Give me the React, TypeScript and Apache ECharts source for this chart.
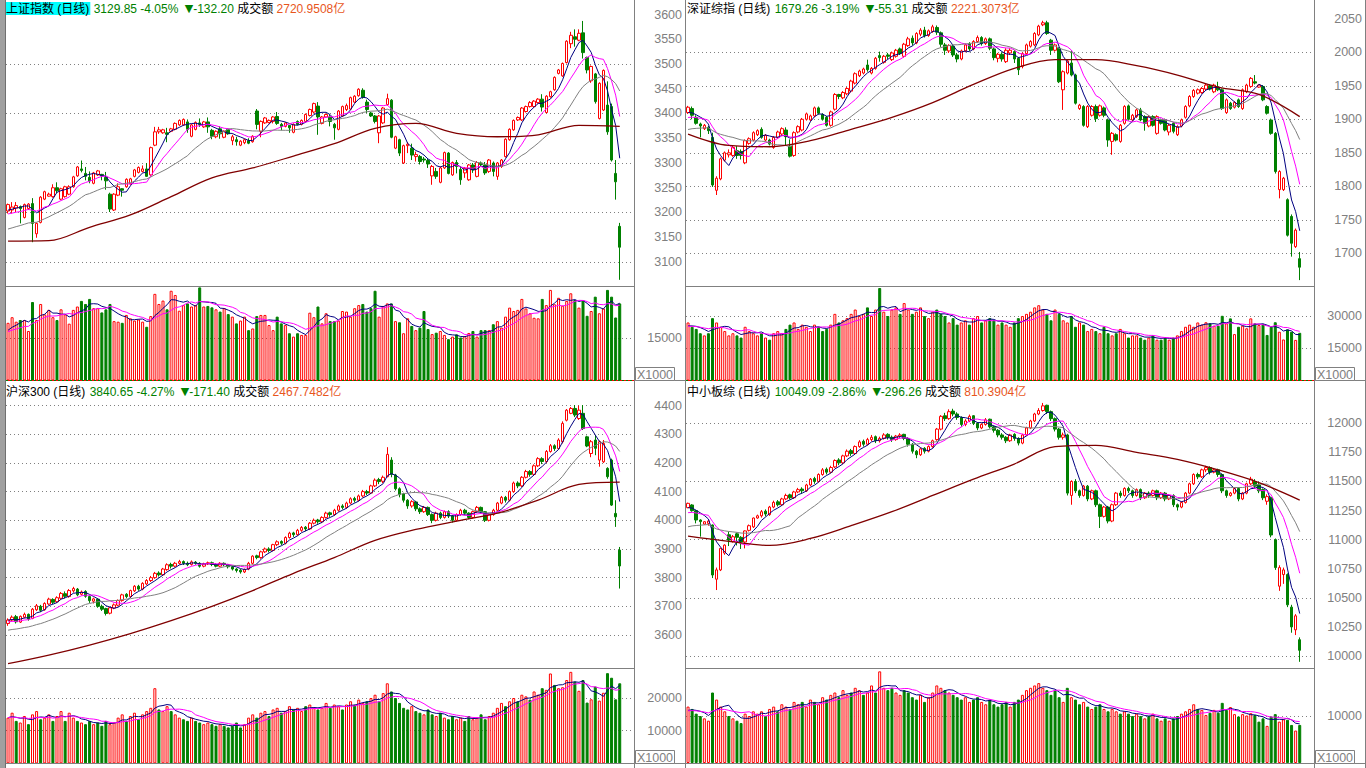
import React, { useEffect, useRef } from "react";
import * as echarts from "echarts";

const SLOT_COUNT = 154;
const categories: string[] = Array.from({ length: SLOT_COUNT }, (_, i) => "T" + (i + 1));

// ---------- 上证指数 ----------  [open, close, low, high]
const shOHLC = [
[3203,3216,3198,3218],[3205,3211,3198,3221],[3209,3214,3201,3221],[3212,3208,3178,3214],[3190,3216,3188,3218],[3208,3217,3205,3219],[3218,3178,3140,3229],[3157,3178,3149,3180],[3180,3231,3178,3233],[3227,3242,3225,3244],
[3233,3237,3232,3240],[3232,3250,3230,3257],[3250,3244,3239,3261],[3227,3248,3225,3250],[3232,3252,3230,3254],[3237,3252,3235,3255],[3252,3272,3250,3274],[3274,3292,3272,3294],[3288,3285,3281,3305],[3279,3273,3265,3292],
[3271,3264,3259,3283],[3259,3280,3257,3282],[3276,3284,3274,3286],[3277,3274,3265,3278],[3271,3264,3246,3282],[3237,3207,3201,3240],[3205,3237,3203,3239],[3235,3252,3233,3259],[3248,3245,3232,3249],[3252,3267,3250,3269],
[3258,3268,3256,3270],[3273,3286,3271,3288],[3281,3291,3279,3293],[3283,3288,3281,3295],[3288,3273,3272,3300],[3276,3331,3274,3333],[3336,3363,3334,3373],[3363,3367,3359,3373],[3361,3367,3359,3369],[3361,3358,3342,3371],
[3364,3369,3362,3371],[3368,3380,3366,3382],[3377,3386,3375,3388],[3377,3388,3375,3390],[3383,3368,3361,3388],[3354,3377,3352,3379],[3368,3382,3366,3384],[3381,3378,3373,3390],[3373,3383,3371,3385],[3383,3373,3361,3392],
[3366,3354,3348,3369],[3353,3364,3350,3366],[3369,3359,3349,3374],[3352,3364,3350,3366],[3368,3359,3357,3370],[3345,3353,3336,3357],[3347,3343,3335,3353],[3336,3344,3334,3346],[3341,3347,3338,3349],[3345,3340,3338,3350],
[3343,3354,3341,3356],[3405,3378,3368,3409],[3364,3384,3352,3386],[3381,3391,3379,3393],[3382,3386,3380,3388],[3384,3393,3380,3395],[3394,3380,3377,3403],[3378,3374,3366,3381],[3374,3381,3372,3383],[3376,3371,3361,3377],
[3362,3378,3360,3380],[3384,3378,3376,3386],[3378,3386,3376,3388],[3384,3398,3382,3400],[3396,3408,3394,3410],[3403,3420,3400,3422],[3415,3393,3357,3423],[3380,3393,3378,3395],[3393,3398,3391,3400],[3393,3384,3374,3398],
[3378,3371,3347,3381],[3368,3405,3366,3407],[3395,3414,3393,3416],[3408,3416,3405,3420],[3409,3432,3407,3434],[3423,3435,3421,3437],[3436,3449,3434,3451],[3447,3433,3430,3451],[3423,3408,3401,3428],[3401,3395,3393,3403],
[3395,3384,3380,3397],[3361,3395,3340,3397],[3381,3411,3379,3413],[3418,3430,3416,3440],[3427,3352,3350,3429],[3330,3353,3328,3355],[3347,3320,3314,3349],[3300,3335,3298,3337],[3335,3338,3320,3342],[3330,3316,3306,3339],
[3313,3317,3303,3323],[3313,3303,3297,3316],[3308,3306,3301,3312],[3305,3298,3290,3309],[3274,3293,3256,3296],[3283,3273,3268,3290],[3261,3290,3259,3293],[3290,3321,3288,3323],[3320,3279,3277,3322],[3276,3301,3274,3303],
[3301,3293,3279,3306],[3287,3266,3256,3293],[3280,3289,3270,3292],[3266,3296,3264,3298],[3296,3286,3280,3300],[3273,3301,3271,3304],[3300,3297,3293,3303],[3296,3280,3276,3302],[3283,3306,3280,3308],[3300,3283,3273,3303],
[3273,3300,3266,3302],[3293,3306,3290,3308],[3313,3348,3311,3350],[3347,3368,3345,3370],[3367,3386,3365,3388],[3387,3392,3385,3394],[3387,3411,3385,3413],[3404,3414,3402,3416],[3414,3422,3412,3425],[3414,3425,3412,3427],
[3422,3429,3420,3431],[3429,3413,3404,3439],[3402,3435,3400,3437],[3434,3444,3432,3446],[3448,3473,3446,3475],[3481,3488,3479,3490],[3476,3501,3474,3503],[3503,3546,3501,3548],[3541,3558,3532,3565],[3555,3550,3535,3570],
[3548,3562,3546,3570],[3563,3523,3511,3587],[3513,3488,3481,3515],[3466,3495,3462,3497],[3480,3424,3420,3482],[3390,3461,3388,3463],[3407,3487,3405,3489],[3417,3363,3357,3465],[3414,3306,3303,3420],[3279,3262.05,3226,3306],[3172,3129.85,3064,3179]
];
const shVol = [
20500,22500,20900,21500,21500,17600,27900,21500,27200,23500,
25100,22500,21500,25300,23500,20200,25100,26300,28300,27200,
29000,25700,25700,24200,25300,27200,21100,20900,20500,23300,
22100,21300,21700,20900,19100,22900,30800,27200,28400,25300,
31900,30400,24800,26800,27400,26300,26800,33100,26300,26500,
26000,25300,24500,25700,23600,22700,20300,21300,22700,17900,
18500,22900,23300,23300,19700,17900,22700,20300,19700,16800,
15600,16800,16200,16200,24100,22500,26300,20300,23900,21100,
21100,21300,24700,24500,22700,25700,26800,27200,24500,25700,
31900,22700,26500,27400,27400,21100,20700,16800,22100,19400,
17900,18800,24700,18300,16500,17000,17600,16200,14700,15600,
16400,15300,15800,16900,17600,15600,17900,17900,17900,20000,
21100,18800,22700,25900,24700,25100,29000,25600,23900,22300,
22100,29000,26800,32200,27100,29400,26600,28300,31000,28600,
25900,28600,23000,24700,29800,23900,25600,32200,29800,22400,27400
];
const shMaLong = [3142,3143,3170,3195,3232,3270,3290,3314,3339,3370,3380,3360,3353,3357,3376,3374];
const shMaSeeds = [3202, 3195, 3164];
const shVolMaSeeds = [17200, 17000];
const shLabels = [3100, 3150, 3200, 3250, 3300, 3350, 3400, 3450, 3500, 3550, 3600];
const shGridLines = [3100, 3200, 3300, 3400, 3500];
const shVolLabels = [15000];
const shVolGridLines = [15000];

// ---------- 深证综指 ----------
const szOHLC = [
[1910,1918,1908,1920],[1916,1906,1900,1919],[1903,1894,1892,1906],[1893,1890,1873,1895],[1886,1891,1884,1893],[1888,1883,1878,1890],[1873,1802,1799,1880],[1794,1812,1787,1815],[1811,1841,1809,1843],[1839,1850,1837,1852],
[1847,1850,1843,1855],[1846,1858,1844,1860],[1853,1846,1841,1860],[1852,1846,1840,1855],[1835,1868,1833,1870],[1864,1871,1862,1873],[1869,1880,1867,1882],[1877,1883,1875,1885],[1885,1873,1871,1888],[1869,1876,1867,1878],
[1869,1863,1861,1871],[1858,1873,1856,1875],[1873,1881,1871,1883],[1878,1886,1876,1888],[1884,1874,1861,1888],[1860,1845,1843,1870],[1846,1880,1844,1882],[1881,1889,1879,1891],[1884,1900,1882,1902],[1900,1908,1898,1910],
[1899,1905,1897,1907],[1905,1917,1903,1919],[1917,1909,1907,1919],[1907,1900,1898,1909],[1903,1891,1889,1905],[1891,1911,1889,1913],[1915,1937,1913,1939],[1937,1934,1930,1938],[1932,1940,1930,1942],[1938,1946,1936,1948],
[1942,1957,1940,1959],[1954,1968,1952,1970],[1965,1972,1963,1974],[1969,1975,1967,1977],[1981,1974,1971,1989],[1969,1976,1967,1978],[1976,1991,1974,1993],[1995,1992,1986,2001],[1985,1994,1983,1996],[1996,1994,1990,1999],
[1989,1999,1987,2001],[1994,2003,1992,2005],[2005,1998,1996,2007],[1994,2012,1992,2014],[2010,2020,2008,2023],[2021,2014,2010,2025],[2014,2028,2012,2030],[2027,2033,2024,2036],[2033,2025,2022,2038],[2025,2032,2023,2034],
[2031,2038,2029,2041],[2037,2030,2026,2040],[2029,2012,2008,2031],[2011,2003,1996,2014],[2002,2010,1999,2012],[2009,1996,1993,2011],[1996,1990,1985,1999],[1990,2002,1988,2004],[2002,2011,2000,2013],[2012,2005,2002,2015],
[2005,2016,2003,2018],[2016,2022,2014,2025],[2022,2013,2010,2024],[2013,2020,2011,2022],[2020,2006,2003,2022],[2005,1992,1988,2007],[1991,1997,1985,1999],[1997,1990,1986,2000],[1986,2003,1984,2006],[1999,2003,1996,2006],
[2001,1990,1984,2003],[1991,1974,1966,1993],[1979,1998,1976,2000],[1998,2011,1996,2013],[2009,2016,2007,2018],[2011,2028,2009,2030],[2026,2039,2024,2041],[2041,2044,2039,2047],[2044,2028,2026,2047],[2018,2003,1996,2020],
[2003,2011,2001,2013],[2006,1956,1954,2008],[1944,1971,1914,1973],[1969,1987,1967,1989],[1984,1966,1964,2003],[1966,1924,1922,1968],[1916,1921,1914,1923],[1919,1891,1889,1921],[1889,1919,1887,1921],[1906,1919,1904,1921],
[1919,1901,1896,1922],[1906,1920,1904,1922],[1917,1906,1903,1919],[1899,1869,1859,1901],[1867,1879,1847,1881],[1877,1869,1867,1879],[1867,1891,1865,1893],[1894,1919,1892,1921],[1920,1900,1898,1922],[1899,1906,1897,1908],
[1904,1914,1902,1916],[1914,1899,1897,1917],[1904,1894,1883,1906],[1890,1904,1888,1906],[1904,1891,1889,1906],[1879,1904,1877,1906],[1899,1894,1892,1901],[1899,1884,1882,1901],[1881,1891,1876,1893],[1894,1882,1879,1896],
[1877,1889,1875,1891],[1890,1899,1888,1901],[1903,1919,1901,1921],[1920,1934,1918,1936],[1934,1943,1932,1945],[1939,1944,1937,1946],[1940,1946,1938,1948],[1945,1951,1943,1953],[1950,1945,1943,1952],[1941,1951,1939,1953],
[1948,1944,1942,1956],[1944,1916,1914,1946],[1910,1929,1908,1931],[1924,1916,1914,1926],[1918,1925,1916,1927],[1929,1919,1917,1931],[1916,1944,1914,1946],[1941,1951,1939,1953],[1949,1961,1947,1963],[1956,1954,1952,1966],
[1948,1951,1947,1952],[1949,1929,1927,1951],[1919,1909,1907,1921],[1899,1879,1877,1901],[1879,1822,1819,1881],[1795,1822,1782,1824],[1795,1812,1793,1814],[1780,1727,1725,1782],[1755,1715,1695,1758],[1710,1734.57,1708,1737],[1692,1679.26,1660,1702]
];
const szVol = [
27000,25000,24000,22000,21000,22000,29000,27000,25000,23000,
21000,22000,21000,20000,25000,23000,22000,21000,22000,20000,
19000,22000,23000,22000,24000,26000,27000,24000,26000,25000,
23000,26000,25000,23000,24000,26000,31000,27000,28000,29000,
31000,33000,30000,31000,34000,30000,33000,43000,32000,30000,
33000,34000,31000,36000,33000,31000,32000,34000,30000,29000,
32000,33000,31000,30000,27000,29000,26000,27000,28000,26000,
29000,30000,27000,28000,29000,28000,26000,27000,26000,25000,
27000,29000,30000,31000,32000,34000,35000,33000,31000,28000,
33000,31000,28000,27000,30000,25000,27000,26000,23000,24000,
23000,22000,25000,22000,21000,22000,24000,22000,20000,21000,
21000,20000,19000,20000,21000,19000,19000,20000,19000,20000,
21000,23000,25000,26000,25000,27000,26000,27100,26600,25500,
25500,30100,26600,28900,21600,25000,25500,24300,28900,26600,
25800,26300,21200,25000,27100,22700,19100,23800,22700,18900,22200
];
const szMaLong = [1878,1861,1859,1868,1885,1903,1925,1952,1976,1989,1989,1980,1966,1948,1937,1904];
const szMaSeeds = [1908, 1901, 1883];
const szVolMaSeeds = [25000, 25000];
const szLabels = [1700, 1750, 1800, 1850, 1900, 1950, 2000, 2050];
const szGridLines = [1700, 1750, 1800, 1850, 1900, 1950, 2000];
const szVolLabels = [15000, 30000];
const szVolGridLines = [15000, 30000];

// ---------- 沪深300 ----------
const hsOHLC = [
[3640,3652,3632,3658],[3652,3662,3648,3668],[3664,3646,3640,3670],[3645,3665,3642,3668],[3662,3672,3658,3678],[3672,3656,3650,3675],[3658,3690,3655,3694],[3688,3702,3684,3708],[3700,3686,3680,3705],[3688,3710,3685,3714],
[3708,3725,3705,3730],[3724,3714,3708,3728],[3716,3730,3712,3735],[3728,3745,3725,3750],[3744,3735,3728,3752],[3734,3755,3730,3760],[3754,3762,3748,3768],[3760,3740,3735,3764],[3742,3750,3738,3755],[3752,3735,3730,3756],
[3734,3720,3712,3738],[3718,3726,3710,3730],[3725,3700,3695,3728],[3700,3690,3684,3706],[3692,3675,3668,3695],[3676,3695,3672,3698],[3694,3705,3690,3710],[3704,3720,3700,3724],[3720,3740,3716,3744],[3742,3734,3728,3746],
[3734,3755,3730,3758],[3754,3770,3750,3774],[3770,3760,3754,3775],[3760,3780,3756,3784],[3778,3790,3774,3795],[3790,3800,3785,3806],[3800,3815,3796,3820],[3816,3810,3804,3822],[3810,3830,3806,3834],[3828,3845,3824,3850],
[3846,3840,3832,3852],[3840,3850,3836,3855],[3850,3856,3846,3862],[3856,3850,3844,3860],[3850,3845,3840,3856],[3846,3855,3842,3860],[3854,3850,3845,3858],[3850,3840,3835,3854],[3840,3848,3836,3852],[3848,3852,3844,3856],
[3852,3846,3840,3856],[3846,3840,3836,3850],[3840,3850,3837,3854],[3850,3845,3840,3853],[3845,3838,3832,3848],[3838,3830,3825,3842],[3830,3825,3818,3833],[3826,3820,3814,3830],[3820,3828,3816,3832],[3830,3850,3826,3855],
[3850,3875,3846,3878],[3876,3870,3864,3880],[3870,3890,3866,3894],[3890,3900,3886,3905],[3900,3895,3888,3906],[3895,3915,3892,3918],[3915,3925,3910,3930],[3926,3920,3914,3930],[3920,3940,3916,3944],[3940,3955,3936,3960],
[3956,3950,3942,3960],[3950,3965,3946,3970],[3965,3975,3960,3980],[3976,3970,3962,3980],[3970,3990,3966,3994],[3990,4000,3986,4006],[4001,3995,3988,4005],[3995,4010,3990,4014],[4010,4025,4006,4030],[4026,4020,4012,4030],
[4020,4035,4016,4040],[4035,4050,4030,4055],[4050,4045,4038,4056],[4045,4060,4040,4065],[4060,4075,4056,4080],[4076,4070,4062,4082],[4070,4085,4066,4090],[4085,4100,4080,4106],[4100,4095,4088,4106],[4095,4120,4092,4124],
[4120,4140,4116,4146],[4142,4135,4126,4148],[4136,4150,4130,4156],[4152,4230,4150,4255],[4210,4160,4150,4220],[4158,4110,4104,4162],[4110,4090,4080,4115],[4092,4070,4062,4096],[4070,4050,4040,4074],[4050,4065,4044,4070],
[4064,4040,4032,4068],[4040,4030,4022,4045],[4030,4045,4026,4050],[4045,4020,4015,4048],[4020,4000,3990,4024],[4000,4025,3996,4030],[4025,4010,4004,4030],[4010,4030,4006,4034],[4030,4015,4008,4035],[4015,4000,3992,4018],
[4000,4020,3996,4024],[4020,4035,4016,4040],[4035,4025,4018,4040],[4025,4010,4004,4028],[4010,4030,4006,4034],[4030,4045,4026,4050],[4045,4030,4024,4048],[4030,4000,3994,4032],[4000,4020,3996,4024],[4020,4035,4016,4040],
[4035,4060,4032,4064],[4060,4080,4056,4085],[4080,4070,4062,4085],[4070,4100,4066,4104],[4100,4130,4096,4135],[4130,4120,4112,4136],[4120,4150,4116,4154],[4150,4170,4146,4176],[4170,4160,4152,4175],[4160,4190,4156,4195],
[4190,4215,4186,4220],[4215,4205,4196,4220],[4205,4240,4200,4245],[4240,4260,4236,4266],[4260,4250,4242,4265],[4250,4280,4246,4286],[4274,4338,4268,4345],[4349,4384,4345,4388],[4373,4390,4370,4395],[4390,4367,4360,4402],
[4355,4384,4350,4400],[4373,4320,4315,4402],[4291,4259,4255,4295],[4233,4274,4220,4280],[4280,4251,4227,4297],[4210,4274,4187,4278],[4204,4268,4200,4280],[4181,4152,4145,4185],[4210,4053,4050,4215],[4024,4012.05,3977,4070],[3896,3840.65,3762,3907]
];
const hsVol = [
14000,15500,13000,12500,14500,12000,15000,16000,13500,14000,
15000,13000,14500,16000,13000,15500,14000,13000,12500,12000,
13000,12000,12500,11500,13000,12000,12500,14000,15000,13000,
14500,15500,13500,15000,16000,17000,23000,16500,16000,17500,
16000,15000,14000,13500,13000,14000,13000,12500,12000,12500,
12000,11500,12000,11500,11000,11500,12500,11000,12000,14000,
15000,14000,15500,16000,14500,16500,17000,15500,16000,17500,
16500,17000,16000,17500,18000,17000,16500,17000,18500,17000,
18000,17500,16500,18000,19000,18000,19500,18500,19000,20000,
21000,19000,21500,24500,22000,20000,18500,17000,16500,17500,
16000,15500,15000,16500,15000,14500,15500,14000,13500,14500,
13500,14000,13000,14500,13500,14000,15000,13500,14500,15500,
17000,18500,17500,19000,20000,19000,21000,20500,19500,22000,
21000,23000,22500,27500,24000,23000,23300,25500,28000,25000,
22200,25500,18600,19600,23500,19200,21600,27600,26200,19600,24500
];
const hsMaLong = [3500,3530,3565,3605,3650,3700,3755,3815,3870,3930,3968,3997,4025,4070,4125,4133];
const hsMaSeeds = [3652, 3645, 3615];
const hsVolMaSeeds = [14000, 14000];
const hsLabels = [3600, 3700, 3800, 3900, 4000, 4100, 4200, 4300, 4400];
const hsGridLines = [3600, 3700, 3800, 3900, 4000, 4100, 4200, 4300, 4400];
const hsVolLabels = [10000, 20000];
const hsVolGridLines = [10000, 20000];

// ---------- 中小板综 ----------
const zxOHLC = [
[11275,11312,11270,11318],[11298,11249,11240,11305],[11249,11169,11140,11255],[11169,11155,11026,11175],[11134,11154,11130,11160],[11140,11160,11120,11170],[11126,10696,10670,11130],[10660,10740,10567,10760],[10740,10925,10730,10930],[10885,10953,10870,10960],
[11042,10996,10945,11070],[10983,11025,10975,11040],[11050,11020,10950,11060],[11020,10980,10920,11030],[10980,11075,10925,11080],[11080,11120,11070,11130],[11110,11186,11100,11190],[11186,11205,11180,11215],[11205,11240,11190,11255],[11245,11220,11200,11260],
[11215,11280,11205,11290],[11280,11320,11270,11335],[11325,11300,11285,11340],[11300,11350,11290,11360],[11350,11380,11340,11395],[11385,11360,11345,11395],[11360,11410,11350,11420],[11410,11430,11400,11445],[11435,11420,11400,11450],[11420,11470,11410,11480],
[11470,11520,11460,11530],[11525,11500,11480,11540],[11500,11560,11490,11570],[11560,11600,11550,11615],[11605,11580,11560,11620],[11580,11620,11570,11635],[11625,11680,11615,11690],[11685,11660,11640,11700],[11660,11720,11650,11730],[11720,11760,11710,11775],
[11765,11740,11720,11780],[11740,11800,11730,11810],[11800,11840,11790,11855],[11845,11820,11800,11860],[11820,11860,11810,11875],[11860,11880,11845,11900],[11885,11850,11830,11895],[11850,11870,11835,11885],[11870,11900,11860,11915],[11905,11880,11860,11915],
[11880,11860,11840,11895],[11860,11890,11850,11900],[11890,11900,11875,11915],[11905,11870,11855,11910],[11870,11820,11800,11880],[11820,11760,11740,11830],[11760,11730,11700,11770],[11730,11780,11720,11790],[11785,11760,11740,11795],[11760,11800,11750,11810],
[11800,11850,11790,11860],[11860,11950,11850,11960],[11950,12060,11940,12070],[12065,12040,12020,12090],[12040,12100,12030,12120],[12105,12080,12060,12125],[12080,12050,12030,12095],[12050,11990,11970,12060],[11990,12020,11975,12035],[12020,12060,12010,12075],
[12065,12000,11985,12070],[12000,11960,11940,12010],[11960,11990,11950,12000],[11990,12030,11980,12045],[12035,11970,11955,12040],[11970,11940,11920,11980],[11940,11900,11880,11950],[11900,11880,11860,11915],[11880,11850,11830,11890],[11850,11900,11840,11910],
[11905,11870,11850,11915],[11870,11830,11810,11880],[11830,11900,11820,11910],[11900,11960,11890,11970],[11960,12020,11950,12030],[12020,12080,12010,12090],[12080,12110,12070,12130],[12110,12150,12100,12175],[12155,12100,12080,12160],[12100,12040,12020,12110],
[12040,11950,11930,12050],[11950,11880,11860,11960],[11880,11900,11860,11920],[11900,11400,11380,11910],[11380,11500,11300,11510],[11500,11420,11400,11520],[11420,11380,11360,11430],[11380,11460,11370,11470],[11460,11350,11330,11470],[11350,11420,11340,11430],
[11420,11300,11280,11430],[11300,11200,11100,11310],[11200,11280,11190,11290],[11280,11160,11140,11290],[11160,11300,11150,11310],[11300,11400,11290,11410],[11400,11380,11360,11420],[11380,11440,11370,11450],[11440,11420,11400,11455],[11420,11380,11360,11430],
[11380,11430,11370,11440],[11430,11360,11340,11440],[11360,11400,11350,11410],[11400,11380,11360,11415],[11380,11420,11370,11430],[11420,11360,11340,11430],[11360,11400,11350,11410],[11400,11350,11330,11410],[11350,11380,11340,11390],[11380,11300,11280,11390],
[11300,11280,11250,11310],[11280,11320,11270,11330],[11320,11400,11310,11410],[11400,11480,11390,11490],[11480,11560,11470,11570],[11560,11540,11520,11575],[11540,11600,11530,11610],[11600,11620,11580,11635],[11620,11580,11560,11630],[11580,11600,11570,11615],
[11600,11560,11540,11610],[11560,11420,11400,11570],[11420,11380,11360,11430],[11380,11400,11370,11410],[11400,11440,11390,11450],[11440,11350,11330,11450],[11350,11400,11340,11410],[11400,11480,11390,11490],[11480,11520,11470,11540],[11500,11460,11440,11520],
[11470,11420,11400,11490],[11430,11360,11340,11440],[11330,11370,11300,11390],[11360,11040,11020,11370],[11000,10760,10740,11010],[10600,10760,10560,10780],[10700,10740,10620,10760],[10700,10440,10420,10710],[10420,10250,10200,10440],[10225,10345.35,10180,10360],[10140,10049.09,9950,10160]
];
const zxVol = [
12000,11500,10500,10000,9500,9000,15000,13500,12000,11000,
10000,9500,9000,8500,10500,10000,11000,10500,11000,10000,
11500,12000,11000,12500,12000,11500,13000,12500,13000,12000,
13500,13000,12500,14000,13500,14500,15000,14000,15500,14500,
15000,16000,15500,14500,15000,16500,15000,19500,16000,15500,
16000,15000,14500,15500,15000,14000,13500,14500,13000,14000,
15000,16500,16000,15500,15000,14500,14000,13500,14000,13000,
13500,14000,13000,12500,13500,12500,12000,12500,13000,12000,
13000,13500,14500,15500,16000,16500,17000,16000,15500,14500,
15500,14000,13000,16000,14000,13500,12500,13000,12000,11500,
12000,12500,11500,11000,11500,11000,10500,11000,10500,10000,
10500,10000,9500,10000,10500,9500,9000,9500,9000,9500,
10000,10500,11000,11500,12500,11500,11300,10200,10700,11300,
10700,12800,11300,11900,10400,9900,10400,10100,10600,10200,
8800,9500,7900,9900,10400,8800,9300,9200,8100,6900,8100
];
const zxMaLong = [11030,10985,10950,11010,11120,11240,11380,11520,11650,11800,11810,11750,11690,11600,11490,11340];
const zxMaSeeds = [11266, 11223, 11100];
const zxVolMaSeeds = [11000, 11000];
const zxLabels = [10000, 10250, 10500, 10750, 11000, 11250, 11500, 11750, 12000];
const zxGridLines = [10000, 10500, 11000, 11500, 12000];
const zxVolLabels = [10000];
const zxVolGridLines = [10000];

const maLongIdx = [0, 10, 20, 30, 40, 50, 60, 70, 80, 90, 100, 110, 120, 130, 140, 150];

const headerNames = ["上证指数", "深证综指", "沪深300", "中小板综"];
const headerClose = ["3129.85", "1679.26", "3840.65", "10049.09"];
const headerPct = ["-4.05%", "-3.19%", "-4.27%", "-2.86%"];
const headerChg = ["-132.20", "-55.31", "-171.40", "-296.26"];
const headerAmount = ["2720.9508", "2221.3073", "2467.7482", "810.3904"];

const FONT = "Arial, 'Liberation Sans', 'Noto Sans CJK SC', sans-serif";
const RED = "#ff0000";
const GREEN = "#008000";
const GRAY = "#808080";
const NAVY = "#000080";
const MAGENTA = "#ff00ff";
const DARKRED = "#800000";
const ORANGE = "#e8561c";

function movingAvg(vals: number[], n: number, seed: number): number[] {
  const out: number[] = [];
  for (let i = 0; i < vals.length; i++) {
    let s = 0;
    for (let k = i - n + 1; k <= i; k++) s += k >= 0 ? vals[k] : seed;
    out.push(Math.round((s / n) * 100) / 100);
  }
  return out;
}

function sparseLine(idx: number[], vals: number[], len: number) {
  const arr: (number | null)[] = new Array(len).fill(null);
  idx.forEach((p, j) => {
    arr[p] = vals[j];
  });
  return arr;
}

const panels = [
  {
    ohlc: shOHLC, vol: shVol, maLong: shMaLong, maSeeds: shMaSeeds, volMaSeeds: shVolMaSeeds,
    labels: shLabels, gridLines: shGridLines, volLabels: shVolLabels, volGridLines: shVolGridLines,
    left: 6, top: 0, height: 286, volTop: 287, volHeight: 93.5,
    pMin: 3051.5, pMax: 3629.3, pStep: 50, vMax: 33235, vStep: 15000,
    hx: 5, hy: 2, active: true, boxX: 635, boxY: 367,
  },
  {
    ohlc: szOHLC, vol: szVol, maLong: szMaLong, maSeeds: szMaSeeds, volMaSeeds: szVolMaSeeds,
    labels: szLabels, gridLines: szGridLines, volLabels: szVolLabels, volGridLines: szVolGridLines,
    left: 686, top: 0, height: 286, volTop: 287, volHeight: 93.6,
    pMin: 1651.2, pMax: 2078, pStep: 50, vMax: 43467, vStep: 15000,
    hx: 686, hy: 2, active: false, boxX: 1315, boxY: 367,
  },
  {
    ohlc: hsOHLC, vol: hsVol, maLong: hsMaLong, maSeeds: hsMaSeeds, volMaSeeds: hsVolMaSeeds,
    labels: hsLabels, gridLines: hsGridLines, volLabels: hsVolLabels, volGridLines: hsVolGridLines,
    left: 6, top: 382, height: 286, volTop: 669, volHeight: 94.4,
    pMin: 3484.9, pMax: 4482.3, pStep: 100, vMax: 28870, vStep: 10000,
    hx: 5, hy: 385, active: false, boxX: 635, boxY: 750,
  },
  {
    ohlc: zxOHLC, vol: zxVol, maLong: zxMaLong, maSeeds: zxMaSeeds, volMaSeeds: zxVolMaSeeds,
    labels: zxLabels, gridLines: zxGridLines, volLabels: zxVolLabels, volGridLines: zxVolGridLines,
    left: 686, top: 382, height: 286, volTop: 669, volHeight: 94,
    pMin: 9896.9, pMax: 12355, pStep: 250, vMax: 20000, vStep: 10000,
    hx: 686, hy: 385, active: false, boxX: 1315, boxY: 750,
  },
];

function buildOption() {
  const grid: any[] = [];
  const xAxis: any[] = [];
  const yAxis: any[] = [];
  const series: any[] = [];
  const title: any[] = [];
  const graphic: any[] = [];

  const labelStyle = { color: GRAY, fontSize: 12.5, fontFamily: FONT, margin: 48, align: "right" };

  panels.forEach((p, k) => {
    const gi = k * 2;
    const vi = k * 2 + 1;
    grid.push(
      { left: p.left, top: p.top, width: 628, height: p.height, outerBoundsMode: "none" },
      { left: p.left, top: p.volTop, width: 628, height: p.volHeight, outerBoundsMode: "none" }
    );
    [gi, vi].forEach((g) =>
      xAxis.push({
        type: "category", gridIndex: g, data: categories, boundaryGap: true,
        axisLine: { show: false }, axisTick: { show: false }, axisLabel: { show: false }, splitLine: { show: false },
      })
    );
    yAxis.push({
      type: "value", gridIndex: gi, position: "right", min: p.pMin, max: p.pMax,
      minInterval: p.pStep, maxInterval: p.pStep, scale: true,
      axisLine: { show: false }, axisTick: { show: false }, splitLine: { show: false },
      axisLabel: {
        ...labelStyle, showMinLabel: false, showMaxLabel: false,
        formatter: (v: number) => (p.labels.indexOf(v) >= 0 ? String(v) : ""),
      },
    });
    yAxis.push({
      type: "value", gridIndex: vi, position: "right", min: 0, max: p.vMax,
      minInterval: p.vStep, maxInterval: p.vStep,
      axisLine: { show: false }, axisTick: { show: false }, splitLine: { show: false },
      axisLabel: {
        ...labelStyle, showMinLabel: false, showMaxLabel: false,
        formatter: (v: number) => (p.volLabels.indexOf(v) >= 0 ? String(v) : ""),
      },
    });

    const closes = p.ohlc.map((d) => d[1]);
    const lineBase = { type: "line", symbol: "none", showSymbol: false, silent: true, z: 3, emphasis: { disabled: true } };

    series.push({
      type: "line", xAxisIndex: gi, yAxisIndex: gi, data: [], silent: true, z: 1,
      markLine: {
        silent: true, z: 1, symbol: ["none", "none"], label: { show: false }, animation: false,
        lineStyle: { color: GRAY, width: 1, type: [1, 3] }, emphasis: { disabled: true },
        data: p.gridLines.map((v) => ({ yAxis: v })),
      },
    });
    series.push({
      type: "candlestick", xAxisIndex: gi, yAxisIndex: gi, data: p.ohlc, barWidth: 3, z: 2, silent: true,
      emphasis: { disabled: true },
      itemStyle: { color: "#ffffff", color0: GREEN, borderColor: RED, borderColor0: GREEN, borderColorDoji: RED, borderWidth: 1 },
    });
    series.push({ ...lineBase, xAxisIndex: gi, yAxisIndex: gi, data: movingAvg(closes, 5, p.maSeeds[0]), lineStyle: { color: NAVY, width: 1 } });
    series.push({ ...lineBase, xAxisIndex: gi, yAxisIndex: gi, data: movingAvg(closes, 10, p.maSeeds[1]), lineStyle: { color: MAGENTA, width: 1 } });
    series.push({ ...lineBase, xAxisIndex: gi, yAxisIndex: gi, data: movingAvg(closes, 20, p.maSeeds[2]), lineStyle: { color: GRAY, width: 1 } });
    series.push({
      ...lineBase, xAxisIndex: gi, yAxisIndex: gi, data: sparseLine(maLongIdx, p.maLong, closes.length),
      connectNulls: true, smooth: 0.35, lineStyle: { color: DARKRED, width: 1.3 },
    });

    series.push({
      type: "line", xAxisIndex: vi, yAxisIndex: vi, data: [], silent: true, z: 1,
      markLine: {
        silent: true, z: 1, symbol: ["none", "none"], label: { show: false }, animation: false,
        lineStyle: { color: GRAY, width: 1, type: [1, 3] }, emphasis: { disabled: true },
        data: p.volGridLines.map((v) => ({ yAxis: v })),
      },
    });
    series.push({
      type: "bar", xAxisIndex: vi, yAxisIndex: vi, barWidth: 3, z: 2, silent: true, emphasis: { disabled: true },
      data: p.vol.map((v, i) => {
        const up = p.ohlc[i][1] >= p.ohlc[i][0];
        return {
          value: v,
          itemStyle: up
            ? { color: "#ffffff", borderColor: RED, borderWidth: 1 }
            : { color: GREEN, borderColor: GREEN, borderWidth: 1 },
        };
      }),
    });
    series.push({ ...lineBase, xAxisIndex: vi, yAxisIndex: vi, data: movingAvg(p.vol, 5, p.volMaSeeds[0]), lineStyle: { color: NAVY, width: 1 } });
    series.push({ ...lineBase, xAxisIndex: vi, yAxisIndex: vi, data: movingAvg(p.vol, 10, p.volMaSeeds[1]), lineStyle: { color: MAGENTA, width: 1 } });

    title.push({
      left: p.hx, top: p.hy, padding: 0, z: 20,
      text:
        "{n|" + headerNames[k] + " (日线)} {g|" + headerClose[k] + " " + headerPct[k] + "} {t|▼}{g|" + headerChg[k] +
        "} {k|成交额} {o|" + headerAmount[k] + "亿}",
      textStyle: {
        fontSize: 12, fontFamily: FONT, fontWeight: "normal",
        rich: {
          n: { color: "#000", fontSize: 12, fontFamily: FONT, backgroundColor: p.active ? "#00ffff" : "transparent", padding: [1, 1, 0, 1] },
          g: { color: GREEN, fontSize: 12, fontFamily: FONT },
          t: { color: GREEN, fontSize: 11, fontFamily: "'DejaVu Sans', sans-serif", padding: [0, 0, 0, 3] },
          k: { color: "#000", fontSize: 12, fontFamily: FONT },
          o: { color: ORANGE, fontSize: 12, fontFamily: FONT },
        },
      },
    });

    graphic.push({
      type: "rect", z: 30, shape: { x: p.boxX + 0.5, y: p.boxY + 0.5, width: 39, height: 13 },
      style: { fill: "#ffffff", stroke: GRAY, lineWidth: 1 },
    });
    graphic.push({
      type: "text", z: 31, x: p.boxX + 20, y: p.boxY + 7.5,
      style: { text: "X1000", fill: GRAY, fontSize: 12.5, fontFamily: FONT, align: "center", verticalAlign: "middle" },
    });
  });

  const L = (x1: number, y1: number, x2: number, y2: number, stroke = GRAY, extra: any = {}) => ({
    type: "line", z: 25, silent: true, shape: { x1, y1, x2, y2 }, style: { stroke, lineWidth: 1, ...extra },
  });
  graphic.push({ type: "rect", z: 25, shape: { x: 0, y: 0, width: 5, height: 768 }, style: { fill: "#a0a0a0" } });
  graphic.push(L(5.5, 0, 5.5, 768, "#707070"));
  graphic.push(L(634.5, 0, 634.5, 768));
  graphic.push(L(685.5, 0, 685.5, 768));
  graphic.push(L(1314.5, 0, 1314.5, 768));
  graphic.push(L(1365.5, 0, 1365.5, 768));
  graphic.push(L(6, 286.5, 634, 286.5));
  graphic.push(L(686, 286.5, 1314, 286.5));
  graphic.push(L(6, 668.5, 634, 668.5));
  graphic.push(L(686, 668.5, 1314, 668.5));
  graphic.push(L(6, 763.5, 1366, 763.5));
  graphic.push(L(634, 380.5, 686, 380.5));
  graphic.push(L(1314, 380.5, 1366, 380.5));
  graphic.push(L(6, 380.5, 634, 380.5, GREEN, { lineDash: [2, 2] }));
  graphic.push(L(6, 380.5, 634, 380.5, RED, { lineDash: [2, 2], lineDashOffset: 2 }));
  graphic.push(L(686, 380.5, 1314, 380.5, GREEN, { lineDash: [2, 2] }));
  graphic.push(L(686, 380.5, 1314, 380.5, RED, { lineDash: [2, 2], lineDashOffset: 2 }));

  return {
    animation: false,
    backgroundColor: "#ffffff",
    textStyle: { fontFamily: FONT },
    title,
    grid,
    xAxis,
    yAxis,
    series,
    graphic,
  };
}

export default function App() {
  const ref = useRef<HTMLDivElement>(null);
  useEffect(() => {
    if (!ref.current) return;
    const chart = echarts.init(ref.current, null, { renderer: "svg" });
    chart.setOption(buildOption() as any);
    return () => {
      chart.dispose();
    };
  }, []);
  return (
    <div
      ref={ref}
      style={{ position: "fixed", left: 0, top: 0, width: 1366, height: 768, background: "#ffffff" }}
    />
  );
}
